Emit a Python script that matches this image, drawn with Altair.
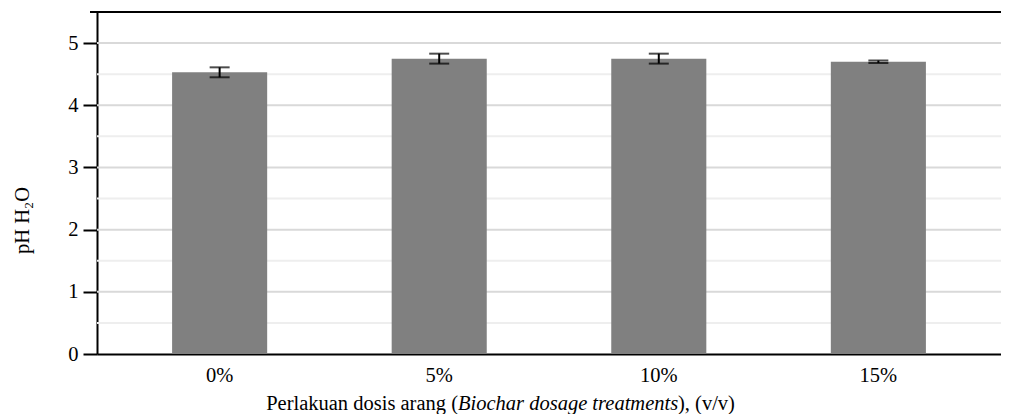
import altair as alt
import pandas as pd

categories = ["0%", "5%", "10%", "15%"]
ph_values = [4.53, 4.75, 4.75, 4.70]
ph_errors = [0.08, 0.08, 0.08, 0.02]
y_ticks = [0, 0.5, 1, 1.5, 2, 2.5, 3, 3.5, 4, 4.5, 5, 5.5]
y_max = 5.5

df = pd.DataFrame({"cat": categories, "ph": ph_values, "err": ph_errors})
grid_df = pd.DataFrame({"v": y_ticks[1:-1]})
frame_df = pd.DataFrame({"name": ["top frame"]})

W, H = 904, 342
FONT = "Liberation Serif"
FS = 20.5

x_axis = alt.Axis(title=None, labelAngle=0, ticks=False, domainColor="black",
                  domainWidth=2, labelFontSize=FS, labelFont=FONT,
                  labelColor="black", labelPadding=11, grid=False)
x_scale = alt.Scale(paddingInner=0.567, paddingOuter=0.342)

y_axis = alt.Axis(
    title="pH H₂O", titleFont=FONT, titleFontSize=FS, titleFontWeight="normal",
    titleColor="black", titleX=-75, titleY=208, titleAngle=-90,
    titleBaseline="middle", titleAlign="center",
    values=y_ticks, format="d", labelFont=FONT, labelFontSize=FS, labelColor="black",
    labelPadding=5,
    labelExpr="datum.value % 1 === 0 ? datum.label : ''",
    domainColor="black", domainWidth=2, tickColor="black", tickWidth=2,
    tickSize={"condition": {"test": "datum.value % 1 === 0", "value": 14}, "value": 7},
    grid=False,
)
y_scale = alt.Scale(domain=[0, y_max], nice=False)


def xenc():
    return alt.X("cat:N", sort=categories, scale=x_scale, axis=x_axis)


def yenc(field):
    return alt.Y(field, type="quantitative", scale=y_scale, axis=y_axis)


grid = alt.Chart(grid_df).transform_calculate(
    major="datum.v % 1 === 0"
).mark_rule(strokeWidth=2).encode(
    y=yenc("v"),
    color=alt.condition("datum.major", alt.value("#d9d9d9"), alt.value("#eeeeee")),
)

# top frame line of the plot area (drawn in pixels at the top of the plot)
top_line = alt.Chart(frame_df).mark_rule(color="black", strokeWidth=2, clip=False).encode(
    x=alt.value(-7), x2=alt.value(W), y=alt.value(0)
)

base = alt.Chart(df)

bars = base.mark_bar(color="#808080").encode(x=xenc(), y=yenc("ph"))

err = base.transform_calculate(lo="datum.ph - datum.err", hi="datum.ph + datum.err")

rules = err.mark_rule(color="black", strokeWidth=2).encode(
    x=xenc(), y=yenc("lo"), y2="hi:Q")
tick_lo = err.mark_tick(color="black", size=20, thickness=2).encode(
    x=xenc(), y=yenc("lo"))
tick_hi = err.mark_tick(color="black", size=20, thickness=2).encode(
    x=xenc(), y=yenc("hi"))

TY = H + 56
t1 = alt.Chart(pd.DataFrame({"t": ["Perlakuan dosis arang ("]})).mark_text(
    font=FONT, fontSize=FS, align="right", baseline="alphabetic", color="black"
).encode(text="t:N", x=alt.value(361), y=alt.value(TY))
t2 = alt.Chart(pd.DataFrame({"t": ["Biochar dosage treatments"]})).mark_text(
    font=FONT, fontSize=FS, fontStyle="italic", align="left", baseline="alphabetic", color="black"
).encode(text="t:N", x=alt.value(361), y=alt.value(TY))
t3 = alt.Chart(pd.DataFrame({"t": ["), (v/v)"]})).mark_text(
    font=FONT, fontSize=FS, align="left", baseline="alphabetic", color="black"
).encode(text="t:N", x=alt.value(581), y=alt.value(TY))

chart = alt.layer(grid, bars, rules, tick_lo, tick_hi, t1, t2, t3, top_line).properties(
    width=W, height=H,
    autosize=alt.AutoSizeParams(type="none"),
    padding={"left": 89, "top": 4, "right": 0, "bottom": 60},
).configure_view(stroke="transparent", strokeWidth=0).configure(
    background="white", font=FONT
).configure_axis(
    labelFont=FONT, labelFontSize=FS, titleFont=FONT, titleFontSize=FS
)

chart.save("out.html", embed_options={"renderer": "svg", "actions": False})
